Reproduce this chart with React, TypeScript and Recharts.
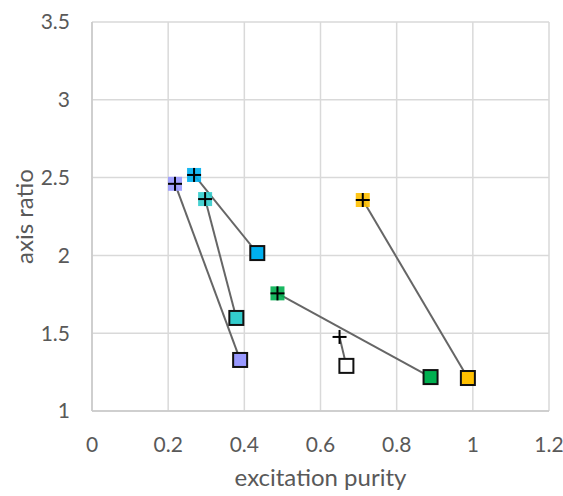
import React from 'react';
import { ScatterChart, Scatter, XAxis, YAxis, CartesianGrid } from 'recharts';

// start point (plus marker) and end point (square marker) for each sample
const startX = [0.218, 0.268, 0.297, 0.487, 0.65, 0.711];
const startY = [2.46, 2.517, 2.362, 1.756, 1.476, 2.356];
const endX = [0.389, 0.434, 0.379, 0.889, 0.668, 0.987];
const endY = [1.328, 2.015, 1.598, 1.218, 1.29, 1.212];
const colors = ['#9999FF', '#00B0F0', '#33CCCC', '#00B050', '#FFFFFF', '#FFC000'];
const hasStartBox = [true, true, true, true, false, true];

const xTicks = [0, 0.2, 0.4, 0.6, 0.8, 1, 1.2];
const yTicks = [1, 1.5, 2, 2.5, 3, 3.5];

const FONT = 'Lato, "Open Sans", sans-serif';
const TEXT = '#595959';

const makeShape = (color: string, startBox: boolean) => (props: any) => {
  const { cx, cy, payload } = props;
  const s = 14;
  if (payload.end) {
    return (
      <rect x={cx - s / 2} y={cy - s / 2} width={s} height={s} fill={color} stroke="#111" strokeWidth={2} />
    );
  }
  return (
    <g>
      {startBox && <rect x={cx - s / 2} y={cy - s / 2} width={s} height={s} fill={color} opacity={0.9} />}
      <line x1={cx - 7} y1={cy} x2={cx + 7} y2={cy} stroke="#000" strokeWidth={2} />
      <line x1={cx} y1={cy - 7} x2={cx} y2={cy + 7} stroke="#000" strokeWidth={2} />
    </g>
  );
};

export default function App() {
  const series = startX.map((sx, i) => [
    { x: sx, y: startY[i], end: false },
    { x: endX[i], y: endY[i], end: true },
  ]);

  return (
    <div style={{ position: 'absolute', left: 0, top: 0, background: '#fff' }}>
      <ScatterChart width={563} height={496} margin={{ top: 22, right: 14, bottom: 0, left: 0 }}>
        <CartesianGrid stroke="#d9d9d9" strokeWidth={1.5} />
        <XAxis
          type="number"
          dataKey="x"
          domain={[0, 1.2]}
          ticks={xTicks}
          height={85}
          axisLine={{ stroke: '#c8c8c8', strokeWidth: 1.5 }}
          tickLine={false}
          tickSize={0}
          tickMargin={26}
          tick={{ fill: TEXT, fontSize: 21, fontFamily: FONT }}
          label={{ value: 'excitation purity', position: 'insideBottom', offset: 10, fill: TEXT, fontSize: 24, fontFamily: FONT }}
        />
        <YAxis
          type="number"
          dataKey="y"
          domain={[1, 3.5]}
          ticks={yTicks}
          width={92}
          axisLine={{ stroke: '#c8c8c8', strokeWidth: 1.5 }}
          tickLine={false}
          tickSize={0}
          tickMargin={22}
          tick={{ fill: TEXT, fontSize: 21, fontFamily: FONT }}
          label={{ value: 'axis ratio', angle: -90, position: 'insideLeft', offset: 24, fill: TEXT, fontSize: 24, fontFamily: FONT, style: { textAnchor: 'middle' } }}
        />
        {series.map((d, i) => (
          <Scatter
            key={i}
            data={d}
            line={{ stroke: '#666666', strokeWidth: 2 }}
            shape={makeShape(colors[i], hasStartBox[i])}
            isAnimationActive={false}
          />
        ))}
      </ScatterChart>
    </div>
  );
}
